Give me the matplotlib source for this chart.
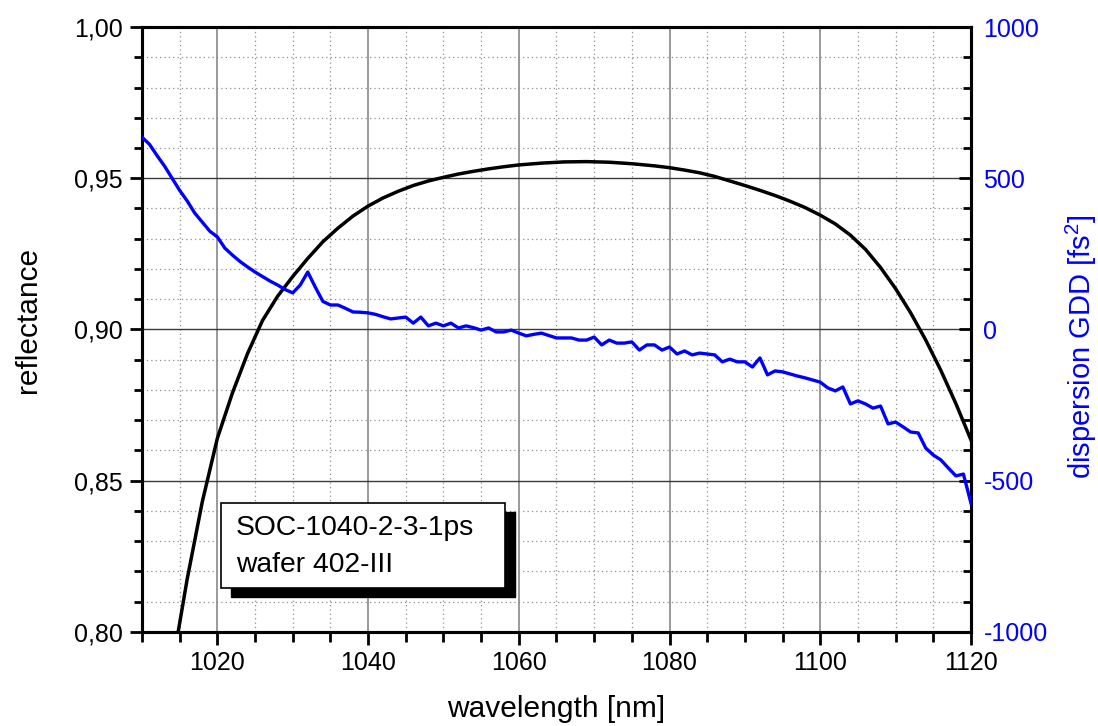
import matplotlib
matplotlib.use("Agg")
import matplotlib.pyplot as plt
from matplotlib.ticker import MultipleLocator, FuncFormatter
from matplotlib.patches import Rectangle

plt.rcParams['font.family'] = ['Liberation Sans', 'DejaVu Sans']
plt.rcParams['mathtext.fontset'] = 'custom'
plt.rcParams['mathtext.rm'] = 'Liberation Sans'
plt.rcParams['mathtext.it'] = 'Liberation Sans:italic'
plt.rcParams['axes.unicode_minus'] = False

# Reflectance (black curve)
refl_wl = [1014.8, 1016, 1018, 1020, 1022, 1024, 1026, 1028, 1030, 1032, 1034, 1036,
           1038, 1040, 1042, 1044, 1046, 1048, 1050, 1052, 1054, 1056, 1058, 1060,
           1063, 1066, 1069, 1072, 1075, 1078, 1080, 1082, 1084, 1086, 1088, 1090,
           1092, 1094, 1096, 1098, 1100, 1102, 1104, 1106, 1108, 1110, 1112, 1114,
           1116, 1118, 1120]
refl_val = [0.800, 0.8175, 0.843, 0.864, 0.879, 0.892, 0.903, 0.911, 0.9175, 0.9235, 0.929, 0.9335,
            0.9375, 0.9408, 0.9435, 0.9457, 0.9476, 0.9491, 0.9503, 0.9514, 0.9523, 0.9531, 0.9538, 0.9544,
            0.9550, 0.9554, 0.9555, 0.9553, 0.9548, 0.9541, 0.9535, 0.9527, 0.9518, 0.9506, 0.9491, 0.9476,
            0.9460, 0.9443, 0.9424, 0.9403, 0.9378, 0.9349, 0.9312, 0.9265, 0.9205, 0.9135, 0.9055, 0.8965,
            0.8865, 0.8755, 0.8635]

# Dispersion GDD (blue curve), fs^2
gdd_wl = list(range(1010, 1121))
gdd_val = [636, 612, 575, 540, 500, 460, 425, 385, 355, 325,
           306, 269, 246, 225, 207, 190, 175, 160, 147, 132,
           121, 147, 190, 140, 93, 81, 81, 70, 58, 57,
           55, 50, 42, 35, 38, 41, 21, 41, 12, 21,
           12, 21, 5, 12, 6, -2, 5, -8, -8, -2,
           -12, -21, -16, -12, -20, -28, -28, -28, -35, -35,
           -25, -51, -35, -45, -45, -41, -68, -51, -51, -68,
           -58, -81, -71, -84, -78, -81, -84, -107, -98, -107,
           -107, -124, -94, -150, -137, -140, -147, -154, -160, -167,
           -174, -193, -203, -190, -246, -236, -246, -260, -253, -312,
           -306, -322, -339, -342, -392, -415, -431, -458, -484, -478,
           -574]

legend_lines = ["SOC-1040-2-3-1ps", "wafer 402-III"]

fig = plt.figure(figsize=(10.98, 7.26), dpi=100)
ax = fig.add_axes([0.1293, 0.1295, 0.8843 - 0.1293, 0.9628 - 0.1295])
ax2 = ax.twinx()

ax.plot(refl_wl, refl_val, color='black', lw=2.5, zorder=3)
ax2.plot(gdd_wl, gdd_val, color='#0000ff', lw=2.4, zorder=3)

ax.set_xlim(1010, 1120)
ax.set_ylim(0.80, 1.00)
ax2.set_ylim(-1000, 1000)

ax.xaxis.set_major_locator(MultipleLocator(20))
ax.xaxis.set_minor_locator(MultipleLocator(5))
ax.yaxis.set_major_locator(MultipleLocator(0.05))
ax.yaxis.set_minor_locator(MultipleLocator(0.01))
ax2.yaxis.set_major_locator(MultipleLocator(500))
ax2.yaxis.set_minor_locator(MultipleLocator(100))
ax.yaxis.set_major_formatter(FuncFormatter(lambda v, p: f"{v:.2f}".replace('.', ',')))
ax.xaxis.set_major_formatter(FuncFormatter(lambda v, p: f"{v:.0f}"))
ax2.yaxis.set_major_formatter(FuncFormatter(lambda v, p: f"{v:.0f}"))

ax.tick_params(axis='x', which='both', direction='out', top=False, labelsize=18, pad=5)
ax.tick_params(axis='x', which='major', length=9, width=2)
ax.tick_params(axis='x', which='minor', length=7, width=2)
ax.tick_params(axis='y', which='both', direction='out', right=False, labelsize=18, pad=5)
ax.tick_params(axis='y', which='major', length=9, width=2)
ax.tick_params(axis='y', which='minor', length=6, width=2)
ax2.tick_params(axis='y', which='both', direction='in', labelsize=18, labelcolor='#0000ff', pad=9)
ax2.tick_params(axis='y', which='major', length=9, width=2)
ax2.tick_params(axis='y', which='minor', length=6, width=2)

for a in (ax, ax2):
    for s in a.spines.values():
        s.set_linewidth(2.2)
        s.set_color('black')

ax.xaxis.grid(True, which='major', color='#7f7f7f', lw=1.1, ls='-')
ax.yaxis.grid(True, which='major', color='#3a3a3a', lw=1.0, ls='-')
ax.grid(True, which='minor', color='#8f8f8f', lw=0.9, ls=(0, (1, 2.5)))
ax.set_axisbelow(True)

ax.set_xlabel("wavelength [nm]", fontsize=21.5)
ax.set_ylabel("reflectance", fontsize=21.5)
ax2.set_ylabel(r"dispersion GDD [fs$^2$]", fontsize=21, color='#0000ff')
ax.xaxis.set_label_coords(0.5, -0.104)
ax.yaxis.set_label_coords(-0.121, 0.515)
ax2.yaxis.set_label_coords(1.112, 0.471)

# Annotation box with shadow
bx0, by0, bw, bh = 0.0953, 0.0727, 0.3426, 0.1405
dx, dy = 0.0115, -0.0155
ax2.add_patch(Rectangle((bx0 + dx, by0 + dy), bw, bh, transform=ax2.transAxes,
                        facecolor='black', edgecolor='black', lw=1, zorder=10))
ax2.add_patch(Rectangle((bx0, by0), bw, bh, transform=ax2.transAxes,
                        facecolor='white', edgecolor='black', lw=1.2, zorder=11))
ax2.text(0.1134, 0.1603, legend_lines[0], transform=ax2.transAxes, fontsize=20.3,
         va='baseline', ha='left', zorder=12)
ax2.text(0.1134, 0.0992, legend_lines[1], transform=ax2.transAxes, fontsize=20.3,
         va='baseline', ha='left', zorder=12)

fig.savefig("out.png", dpi=100)
